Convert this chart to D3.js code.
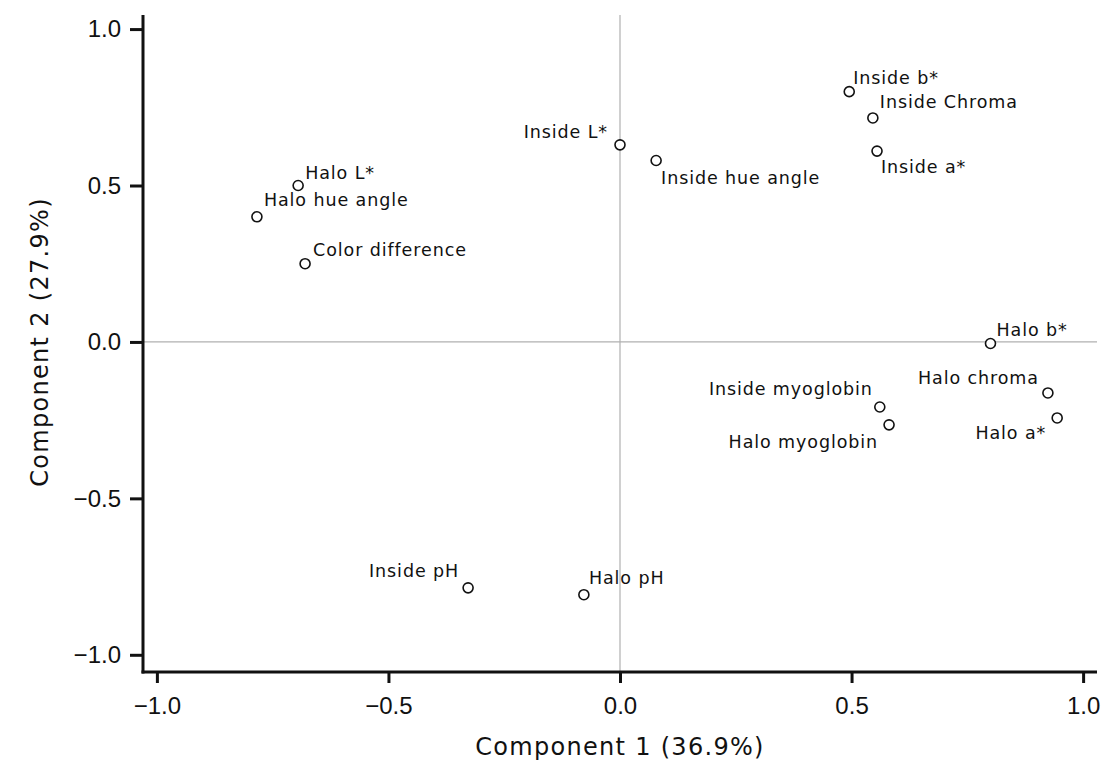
<!DOCTYPE html>
<html>
<head>
<meta charset="utf-8">
<script src="https://cdn.jsdelivr.net/npm/d3@7"></script>
<style>
  body { margin: 0; background: #fff; }
  text { font-family: "DejaVu Sans", sans-serif; fill: #111; }
</style>
</head>
<body>
<div id="chart"></div>
<script>
// variable names and loadings (component 1, component 2)
const names = [
  "Inside b*", "Inside Chroma", "Inside a*", "Inside L*", "Inside hue angle",
  "Halo L*", "Halo hue angle", "Color difference", "Halo b*", "Halo chroma",
  "Halo a*", "Inside myoglobin", "Halo myoglobin", "Inside pH", "Halo pH"
];
const comp1 = [0.495, 0.546, 0.555, 0.0, 0.078, -0.695, -0.784, -0.68, 0.80, 0.924, 0.944, 0.561, 0.581, -0.328, -0.078];
const comp2 = [0.80, 0.716, 0.61, 0.63, 0.58, 0.50, 0.40, 0.25, -0.005, -0.163, -0.243, -0.208, -0.265, -0.786, -0.808];
const tickValues = [-1.0, -0.5, 0.0, 0.5, 1.0];
const xTitle = "Component 1 (36.9%)";
const yTitle = "Component 2 (27.9%)";

// where each label sits relative to its point
const labelPlace = {
  "Inside b*": ["start", 4, -8],
  "Inside Chroma": ["start", 7, -10],
  "Inside a*": ["start", 4, 22],
  "Inside L*": ["end", -12, -7],
  "Inside hue angle": ["start", 5, 24],
  "Halo L*": ["start", 7, -7],
  "Halo hue angle": ["start", 7, -11],
  "Color difference": ["start", 8, -8],
  "Halo b*": ["start", 6, -8],
  "Halo chroma": ["end", -9, -9],
  "Halo a*": ["end", -11, 21],
  "Inside myoglobin": ["end", -7, -12],
  "Halo myoglobin": ["end", -11, 23],
  "Inside pH": ["end", -9, -11],
  "Halo pH": ["start", 5, -11]
};

const points = names.map((n, i) => ({ name: n, c1: comp1[i], c2: comp2[i] }));

const width = 1101, height = 773;
const plotLeft = 143, plotRight = 1097, plotTop = 15, plotBottom = 672;

const svg = d3.select("#chart").append("svg")
  .attr("width", width).attr("height", height);

const x = d3.scaleLinear().domain([-1.03, 1.03]).range([plotLeft, plotRight]);
const y = d3.scaleLinear().domain([-1.055, 1.045]).range([plotBottom, plotTop]);

const fmt = d => d3.format(".1f")(d).replace("-", "\u2212");

// zero reference lines
svg.append("line")
  .attr("x1", x(0)).attr("x2", x(0)).attr("y1", plotTop).attr("y2", plotBottom)
  .attr("stroke", "#b0b0b0").attr("stroke-width", 1.2);
svg.append("line")
  .attr("x1", plotLeft).attr("x2", plotRight).attr("y1", y(0)).attr("y2", y(0))
  .attr("stroke", "#b0b0b0").attr("stroke-width", 1.2);

// axes
const xAxis = svg.append("g")
  .attr("transform", `translate(0,${plotBottom})`)
  .call(d3.axisBottom(x).tickValues(tickValues).tickFormat(fmt).tickSizeOuter(0).tickSize(11).tickPadding(14));
const yAxis = svg.append("g")
  .attr("transform", `translate(${plotLeft},0)`)
  .call(d3.axisLeft(y).tickValues(tickValues).tickFormat(fmt).tickSizeOuter(0).tickSize(13).tickPadding(9));

[xAxis, yAxis].forEach(a => {
  a.select(".domain").remove();
  a.selectAll(".tick line").attr("stroke", "#111").attr("stroke-width", 3);
  a.selectAll(".tick text")
    .style("font-family", "'Liberation Sans', sans-serif")
    .style("font-size", "24px").attr("fill", "#111");
});

svg.append("line")
  .attr("x1", plotLeft).attr("x2", plotLeft).attr("y1", plotTop).attr("y2", plotBottom + 1.5)
  .attr("stroke", "#111").attr("stroke-width", 3);
svg.append("line")
  .attr("x1", plotLeft - 1.5).attr("x2", plotRight).attr("y1", plotBottom).attr("y2", plotBottom)
  .attr("stroke", "#111").attr("stroke-width", 3);

// axis titles
svg.append("text")
  .attr("x", x(0)).attr("y", 755)
  .attr("text-anchor", "middle")
  .style("font-size", "24px")
  .style("letter-spacing", "1.3px")
  .text(xTitle);
svg.append("text")
  .attr("transform", `translate(48,${y(0)}) rotate(-90)`)
  .attr("text-anchor", "middle")
  .style("font-size", "24px")
  .style("letter-spacing", "1.3px")
  .text(yTitle);

// points
svg.append("g").selectAll("circle")
  .data(points)
  .join("circle")
  .attr("cx", d => x(d.c1))
  .attr("cy", d => y(d.c2))
  .attr("r", 5)
  .attr("fill", "#fff")
  .attr("stroke", "#111")
  .attr("stroke-width", 1.6);

// labels
svg.append("g").selectAll("text")
  .data(points)
  .join("text")
  .attr("x", d => x(d.c1) + labelPlace[d.name][1])
  .attr("y", d => y(d.c2) + labelPlace[d.name][2])
  .attr("text-anchor", d => labelPlace[d.name][0])
  .style("font-size", "17.5px")
  .style("letter-spacing", "0.9px")
  .text(d => d.name);
</script>
</body>
</html>
